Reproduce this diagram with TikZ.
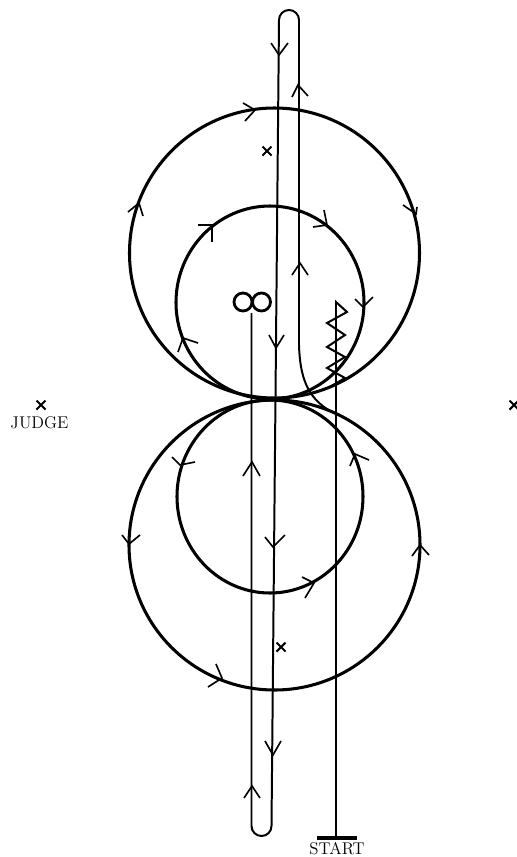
\documentclass[tikz,border=0pt]{standalone}
\usepackage{tikz}
\usetikzlibrary{calc}
\tikzset{
  track/.style={line width=2.6pt},
  lane/.style={line width=1.7pt},
  barb/.style={line width=1.4pt},
  mark label/.style={font=\fontsize{14.5}{14.5}\selectfont,inner sep=0pt}
}
\begin{document}
\begin{tikzpicture}[x=0.03cm,y=-0.03cm]
\useasboundingbox (0,0) rectangle (517,857);

% Large and small circles
\draw[track] (274.5,253) circle (145);
\draw[track] (270,302.5) ellipse (94 and 96.5);
\draw[track] (274.5,545) ellipse (145.5 and 145);
\draw[track] (270,496.5) ellipse (93 and 96.5);

% Hairpin and entry curve
\draw[lane] (251.5,313) -- (251.5,826) arc (180:0:10) -- (279,20) arc (180:360:10) -- (299,345)
  .. controls (300,375) and (306,398) .. (332,412);

% Loop symbol
\foreach \x in {243,261.5}
    \draw[line width=2.4pt] (\x,302) circle (9);

% Start line with zigzag
\draw[lane] (336,838) -- (336,302) -- (347,312) -- (327,323) -- (345,335) -- (327,347)
  -- (345,357) -- (327,368) -- (345,378) -- (328,388);
\draw[track] (317,838) -- (357,838);
\node[mark label] (start) at (337,849) {START};

% Judges
\node[mark label] (judge) at (39.5,423) {JUDGE};
\foreach \x/\y in {41/405,267/151,281/647,514/405}
    \draw[line width=1.8pt] (\x-4.5,\y-4.5) -- (\x+4.5,\y+4.5) (\x-4.5,\y+4.5) -- (\x+4.5,\y-4.5);

% Direction barbs
\foreach \p in {
    {(243,103) -- (255,110) -- (245,121)},
    {(128,212) -- (139,203) -- (143,216)},
    {(403,205) -- (416,214) -- (417,207)},
    {(198,225) -- (212,225) -- (212,242)},
    {(313,227) -- (327,225) -- (324,210)},
    {(355,299) -- (363,307) -- (373,297)},
    {(178,352) -- (183,338) -- (198,343)},
    {(271,43) -- (279,55) -- (288,43)},
    {(292,97) -- (298,85) -- (308,96)},
    {(292,275) -- (300,263) -- (308,275)},
    {(269,335) -- (276,348) -- (284,335)},
    {(172,457) -- (180,465) -- (195,462)},
    {(243,476) -- (252,462) -- (260,476)},
    {(265,537) -- (273,547) -- (285,535)},
    {(350,466) -- (355,454) -- (369,460)},
    {(412,556) -- (420,545) -- (429,555)},
    {(122,535) -- (129,544) -- (140,535)},
    {(302,577) -- (314,583) -- (305,598)},
    {(216,664) -- (222,678) -- (208,687)},
    {(265,741) -- (273,755) -- (281,741)},
    {(244,798) -- (252,786) -- (260,798)}}
    \draw[barb] \p;

\end{tikzpicture}
\end{document}
